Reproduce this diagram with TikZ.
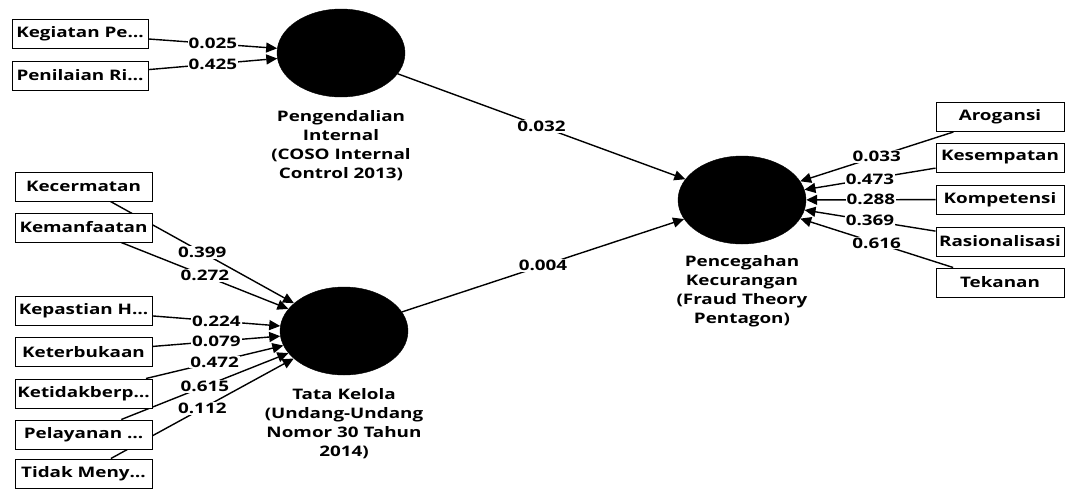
\documentclass[tikz,border=0pt]{standalone}
\usepackage{fontspec}
\setmainfont[FakeStretch=1.3]{Open Sans}
\usetikzlibrary{shapes.geometric,arrows.meta}
\pgfdeclarelayer{bg}
\pgfsetlayers{bg,main}
\begin{document}
\begin{tikzpicture}[x=1pt,y=-1pt,
  every node/.style={font=\fontsize{14.5}{19}\selectfont\bfseries},
  lv/.style={ellipse, fill=black, draw=black, minimum width=128pt, minimum height=88pt, inner sep=0pt},
  ind/.style={draw=black, fill=white, line width=1pt, minimum width=137pt, minimum height=29pt, inner sep=0pt},
  indr/.style={ind, minimum width=128pt},
  conn/.style={line width=1.4pt, -{Triangle[length=11pt,width=10pt]}},
  wt/.style={fill=white, inner sep=1pt, midway},
  lvlabel/.style={align=center, inner sep=0pt}]
\useasboundingbox (0,0) rectangle (1066,488);
% latent variables
\node[lv] (pi) at (341,53) {};
\node[lv] (tk) at (344,331) {};
\node[lv] (pk) at (742,200) {};
\node[lvlabel] (pil) at (341,146) {Pengendalian\\Internal\\(COSO Internal\\Control 2013)};
\node[lvlabel] (tkl) at (344,424) {Tata Kelola\\(Undang-Undang\\Nomor 30 Tahun\\2014)};
\node[lvlabel] (pkl) at (742,291) {Pencegahan\\Kecurangan\\(Fraud Theory\\Pentagon)};
% indicators left top
\node[ind, minimum width=136pt] (a1) at (80,34) {Kegiatan Pe…};
\node[ind, minimum width=136pt] (a2) at (80,75.5) {Penilaian Ri…};
% indicators left bottom
\node[ind] (b1) at (83.5,186.5) {Kecermatan};
\node[ind] (b2) at (83.5,227.5) {Kemanfaatan};
\node[ind] (b3) at (83.5,310.5) {Kepastian H…};
\node[ind] (b4) at (83.5,352) {Keterbukaan};
\node[ind] (b5) at (83.5,393.5) {Ketidakberp…};
\node[ind] (b6) at (83.5,434.5) {Pelayanan …};
\node[ind] (b7) at (83.5,473.5) {Tidak Meny…};
% indicators right
\node[indr] (c1) at (1000,117) {Arogansi};
\node[indr] (c2) at (1000,157.5) {Kesempatan};
\node[indr] (c3) at (1000,199.5) {Kompetensi};
\node[indr] (c4) at (1000,241.5) {Rasionalisasi};
\node[indr] (c5) at (1000,282.5) {Tekanan};
\begin{pgfonlayer}{bg}
\draw[conn] (a1) -- node[wt] {0.025} (pi);
\draw[conn] (a2) -- node[wt] {0.425} (pi);
\draw[conn] (b1) -- node[wt] {0.399} (tk);
\draw[conn] (b2) -- node[wt] {0.272} (tk);
\draw[conn] (b3) -- node[wt] {0.224} (tk);
\draw[conn] (b4) -- node[wt] {0.079} (tk);
\draw[conn] (b5) -- node[wt] {0.472} (tk);
\draw[conn] (b6) -- node[wt] {0.615} (tk);
\draw[conn] (b7) -- node[wt] {0.112} (tk);
\draw[conn] (c1) -- node[wt] {0.033} (pk);
\draw[conn] (c2) -- node[wt] {0.473} (pk);
\draw[conn] (c3) -- node[wt] {0.288} (pk);
\draw[conn] (c4) -- node[wt] {0.369} (pk);
\draw[conn] (c5) -- node[wt] {0.616} (pk);
\draw[conn] (pi) -- node[wt] {0.032} (pk);
\draw[conn] (tk) -- node[wt] {0.004} (pk);
\end{pgfonlayer}
\end{tikzpicture}
\end{document}
